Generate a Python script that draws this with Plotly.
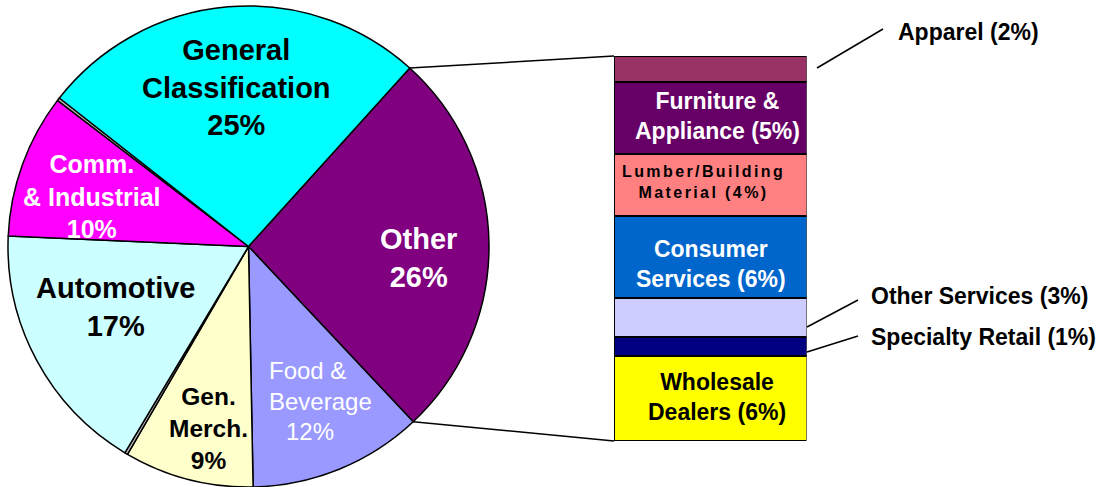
import plotly.graph_objects as go
import math

# ---------------- data ----------------
pie_labels = ["Other", "Food & Beverage", "Gen. Merch.", "Unlabelled (a)",
              "Automotive", "Comm. & Industrial", "Unlabelled (b)", "General Classification"]
pie_values = [26.3, 11.7, 8.7, 0.2, 17.1, 9.7, 0.2, 26.1]
pie_pct_text = ["26%", "12%", "9%", "", "17%", "10%", "", "25%"]

bar_labels = ["Wholesale Dealers", "Specialty Retail", "Other Services", "Consumer Services",
              "Lumber/Building Material", "Furniture & Appliance", "Apparel"]
bar_values = [5.8, 1.3, 2.66, 5.6, 4.23, 4.92, 1.78]
bar_pct_text = ["6%", "1%", "3%", "6%", "4%", "5%", "2%"]

# ---------------- styles ----------------
W, H = 1097, 487
FONT = "Liberation Sans, Arial, sans-serif"
pie_colors = ["#800080", "#9999FF", "#FFFFCC", "#C0C0C0", "#CCFFFF", "#FF00FF", "#C0C0C0", "#00FFFF"]
bar_colors = ["#FFFF00", "#000080", "#CCCCFF", "#0066CC", "#FF8080", "#660066", "#993366"]
ROTATION = 42.1


def P(x, y):
    """pixel -> paper coordinates"""
    return x / W, 1 - y / H


# pie domain (pixels)
pie_x0, pie_x1, pie_top, pie_bot = 8, 489, 6, 487
# bar domain (pixels)
bar_x0, bar_x1, bar_top, bar_bot = 614, 806.5, 56, 441

fig = go.Figure()
fig.add_trace(go.Pie(
    labels=pie_labels, values=pie_values, sort=False, direction="clockwise",
    rotation=ROTATION, textinfo="none", hoverinfo="label+percent",
    marker=dict(colors=pie_colors, line=dict(color="black", width=1.5)),
    domain=dict(x=[pie_x0 / W, pie_x1 / W], y=[1 - pie_bot / H, 1 - pie_top / H]),
    showlegend=False,
))

for lab, val, col in zip(bar_labels, bar_values, bar_colors):
    fig.add_trace(go.Bar(
        x=[0], y=[val], width=1, name=lab, marker=dict(color=col, line=dict(color="black", width=1.5)),
        xaxis="x2", yaxis="y2", showlegend=False, hoverinfo="name+y",
    ))

total_bar = sum(bar_values)
fig.update_layout(
    width=W, height=H, margin=dict(l=0, r=0, t=0, b=0),
    paper_bgcolor="white", plot_bgcolor="white", barmode="stack",
    xaxis2=dict(domain=[bar_x0 / W, bar_x1 / W], range=[-0.5, 0.5], visible=False, fixedrange=True),
    yaxis2=dict(domain=[1 - bar_bot / H, 1 - bar_top / H], range=[0, total_bar], visible=False,
                fixedrange=True, anchor="x2"),
    font=dict(family=FONT),
)

# ---------- connector lines from "Other" slice to the bar ----------
cx = (pie_x0 + pie_x1) / 2
cy = (pie_top + pie_bot) / 2
r = min(pie_x1 - pie_x0, pie_bot - pie_top) / 2
tot = sum(pie_values)
a0 = math.radians(ROTATION)
a1 = math.radians(ROTATION + 360 * pie_values[0] / tot)
for ang, by in [(a0, bar_top), (a1, bar_bot)]:
    px, py = cx + r * math.sin(ang), cy - r * math.cos(ang)
    xa, ya = P(px, py)
    xb, yb = P(bar_x0, by)
    fig.add_shape(type="line", xref="paper", yref="paper", x0=xa, y0=ya, x1=xb, y1=yb,
                  line=dict(color="black", width=1.5))

# ---------- pie labels ----------
def ann(text, x, y, size, color, bold=True, align="center", xanchor="center", xref="paper", yref="paper", **kw):
    t = f"<b>{text}</b>" if bold else text
    fig.add_annotation(text=t, x=x, y=y, xref=xref, yref=yref, showarrow=False,
                       font=dict(family=FONT, size=size, color=color), align=align,
                       xanchor=xanchor, yanchor="middle", **kw)

pie_ann = [  # (index, name text, px x, px y, size, color, bold)
    (7, "General<br>Classification", 236, 87, 29, "black", True),
    (0, "Other", 418, 258, 29, "white", True),
    (4, "Automotive", 116, 307, 29, "black", True),
    (5, "Comm.<br>& Industrial", 92, 197, 25, "white", True),
    (2, "Gen.<br>Merch.", 208, 428, 24.5, "black", True),
]
for i, name, x, y, s, c, b in pie_ann:
    ax, ay = P(x, y)
    ann(f"{name}<br>{pie_pct_text[i]}", ax, ay, s, c, b)

# Food & Beverage (regular weight, left aligned block)
ax, ay = P(267, 386)
ann("Food &<br>Beverage", ax, ay, 24, "white", bold=False, align="left", xanchor="left")
ax, ay = P(310, 431)
ann(pie_pct_text[1], ax, ay, 24, "white", bold=False)

# ---------- labels inside bar segments ----------
cum = []
c = 0
for v in bar_values:
    cum.append(c + v / 2)
    c += v
inside = {  # index: (text, color, size, xshift, yshift)
    5: ("Furniture &<br>Appliance", "white", 23, 7, 2),
    4: ("Lumber/Building<br>Material", "black", 16, -7, 3),
    3: ("Consumer<br>Services", "white", 23, 1, -7),
    0: ("Wholesale<br>Dealers", "black", 23, 7, 2),
}
for i, (t, col, s, xs, ys) in inside.items():
    ann(f"{t} ({bar_pct_text[i]})", 0, cum[i], s, col, True, xref="x2", yref="y2", xshift=xs, yshift=ys)

# ---------- outside labels with leader lines ----------
outside = {  # index: (line start px, line end px, label px)
    6: ((817, 68), (883, 29), (896, 32)),
    2: ((807, 327), (858, 300), (869, 296)),
    1: ((807, 352), (858, 336), (869, 337)),
}
for i, (p0, p1, pl) in outside.items():
    x0, y0 = P(*p0)
    x1, y1 = P(*p1)
    fig.add_shape(type="line", xref="paper", yref="paper", x0=x0, y0=y0, x1=x1, y1=y1,
                  line=dict(color="black", width=1.5))
    lx, ly = P(*pl)
    ann(f"{bar_labels[i]} ({bar_pct_text[i]})", lx, ly, 23, "black", True, align="left", xanchor="left")

post = """
document.body.style.margin = '0';
document.body.style.overflow = 'hidden';
document.querySelectorAll('text.annotation-text').forEach(function(t){
  if (t.textContent.indexOf('Lumber') >= 0) { t.style.letterSpacing = '2.4px'; }
});
"""
fig.write_html("out.html", config={"displayModeBar": False}, post_script=post)
